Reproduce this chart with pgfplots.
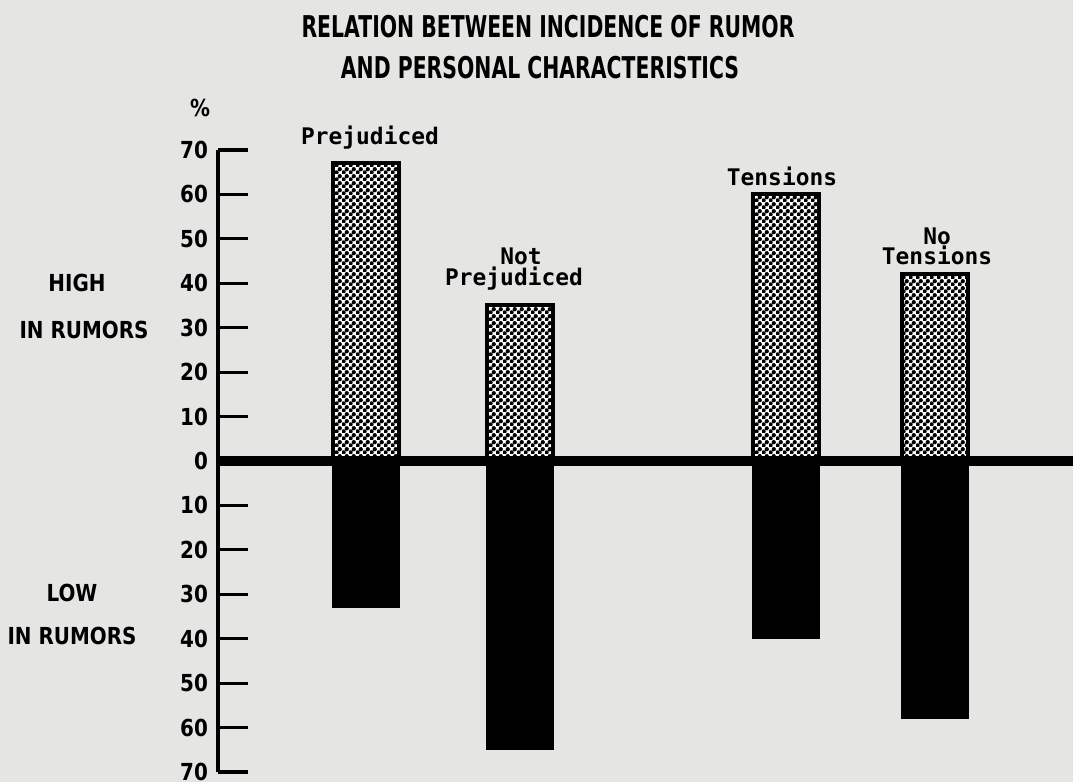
\documentclass[border=0pt]{standalone}
\usepackage{pgfplots}
\pgfplotsset{compat=1.18}
\usepackage{fontspec}
\setmainfont{DejaVu Sans}
\newfontfamily\titlefont[FakeStretch=0.68]{DejaVu Sans}
\newfontfamily\labfont[FakeStretch=0.85]{DejaVu Sans}
\newfontfamily\monofont{DejaVu Sans Mono}
\usetikzlibrary{patterns}
\pgfdeclarepatternformonly{mydots}{\pgfqpoint{0pt}{0pt}}{\pgfqpoint{2.5pt}{2.5pt}}{\pgfqpoint{2.5pt}{2.5pt}}{%
  \pgfpathcircle{\pgfqpoint{0.625pt}{0.625pt}}{0.84pt}%
  \pgfpathcircle{\pgfqpoint{1.875pt}{1.875pt}}{0.84pt}%
  \pgfusepath{fill}}
\definecolor{bg}{rgb}{0.90,0.90,0.89}
\begin{document}
\begin{tikzpicture}
\useasboundingbox (0,0) rectangle (375.55pt,273.7pt);
\fill[bg] (0,0) rectangle (375.55pt,273.7pt);
\begin{axis}[at={(76.3pt,3.5pt)}, anchor=south west, scale only axis,
  width=299.25pt, height=217.7pt,
  xmin=218, xmax=1073, ymin=-70, ymax=70,
  axis x line=none, axis y line=left,
  axis line style={line width=1.4pt,-},
  ytick={-70,-60,...,70},
  yticklabels={70,60,50,40,30,20,10,0,10,20,30,40,50,60,70},
  tick align=inside, major tick length=10.5pt,
  tick style={line width=1.1pt,black},
  yticklabel style={font=\labfont\bfseries\fontsize{8.2}{9}\selectfont},
  clip=false]
\addplot[ybar, bar width=66, bar shift=0pt, fill=white, draw=black, line width=1.4pt,
  postaction={pattern=mydots}] coordinates {(366,67) (520,35) (786,60) (935,42)};
\addplot[ybar, bar width=66, bar shift=0pt, fill=black, draw=black]
  coordinates {(366,-33) (520,-65) (786,-40) (935,-58)};
\addplot[black, line width=3.5pt] coordinates {(218,0) (1073,0)};
\tikzset{bl/.style={font=\monofont\bfseries\fontsize{8}{9}\selectfont, inner sep=0pt}}
\node[bl] at (axis cs:370,72.8) {Prejudiced};
\node[bl] at (axis cs:521,46) {Not};
\node[bl] at (axis cs:514,41) {Prejudiced};
\node[bl] at (axis cs:782,64) {Tensions};
\node[bl] at (axis cs:937,50.6) {No};
\node[bl] at (axis cs:937,46.3) {Tensions};
\end{axis}
\begin{scope}[x=0.35pt, y=-0.35pt, shift={(0,273.7pt)}]
\tikzset{tt/.style={font=\titlefont\bfseries\fontsize{10.5}{12}\selectfont, inner sep=0pt},
         sl/.style={font=\labfont\bfseries\fontsize{8.2}{9}\selectfont, inner sep=0pt}}
\node[tt] at (548,27) {RELATION BETWEEN INCIDENCE OF RUMOR};
\node[tt] at (540,68) {AND PERSONAL CHARACTERISTICS};
\node[sl] at (200,108) {\%};
\node[sl] at (77,283) {HIGH};
\node[sl] at (84,330) {IN RUMORS};
\node[sl] at (72,593) {LOW};
\node[sl] at (72,636) {IN RUMORS};
\end{scope}
\end{tikzpicture}
\end{document}
